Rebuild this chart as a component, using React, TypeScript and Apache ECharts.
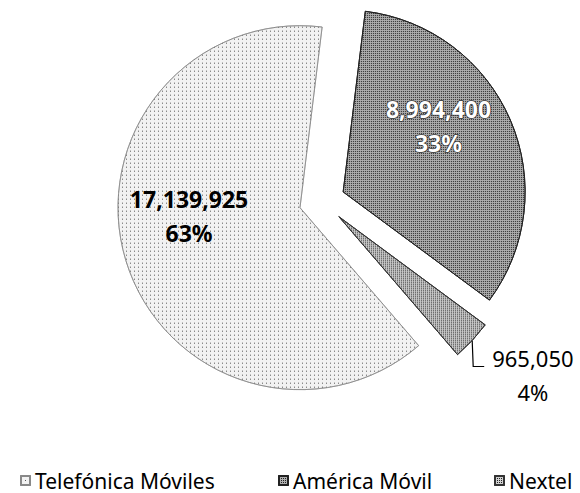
import React, { useEffect, useRef } from 'react';
import * as echarts from 'echarts';

const categories = ['Telefónica Móviles', 'América Móvil', 'Nextel'];
const values = [17139925, 8994400, 965050];

const FONT = '"Noto Sans", sans-serif';

const fills = ['#f2f2f2', '#afafaf', '#d0d0d0'];
const dotColors = ['#555', '#222', '#222'];
const borderColors = ['#888', '#222', '#333'];

const fmtValue = (v: number) => Number(v).toLocaleString('en-US');

export default function App() {
  const ref = useRef<HTMLDivElement>(null);
  useEffect(() => {
    document.body.style.margin = '0';
    const chart = echarts.init(ref.current!, null, { renderer: 'svg' });
    const data = categories.map((name, i) => ({
      name,
      value: values[i],
      selected: true,
      itemStyle: {
        color: fills[i],
        borderColor: borderColors[i],
        borderWidth: i === 0 ? 0.7 : 1,
        decal: {
          symbol: 'rect',
          symbolSize: 1,
          color: dotColors[i],
          dashArrayX: i === 0 ? [1, 3] : [1, 1],
          dashArrayY: i === 0 ? [1, 3] : [1, 1],
        },
      },
      label:
        i === 2
          ? {
              position: 'outside',
              color: '#000',
              fontWeight: 'normal',
              formatter: (p: any) => `{a|${fmtValue(p.value)}}\n{a|${Math.round(p.percent)}%}`,
              rich: {
                a: { width: 84, align: 'center', fontSize: 22, lineHeight: 34, fontFamily: FONT, color: '#000' },
              },
            }
          : i === 1
          ? { position: 'inside', color: '#fff', fontWeight: 'bold', textBorderColor: '#333', textBorderWidth: 1.5 }
          : { position: 'inside', color: '#000', fontWeight: 'bold' },
      labelLine: i === 2 ? { show: true, length: 20, length2: 12, lineStyle: { color: '#000', width: 1.2 } } : { show: false },
    }));
    chart.setOption({
      animation: false,
      legend: categories.map((name, i) => ({
        data: [name],
        left: [15, 273, 489][i],
        top: 465,
        icon: 'rect',
        itemWidth: 9,
        itemHeight: 9,
        selectedMode: false,
        textStyle: { fontSize: 21, fontFamily: FONT, color: '#000' },
      })),
      series: [
        {
          type: 'pie',
          center: [322, 201],
          radius: 182,
          startAngle: -49.3,
          clockwise: true,
          selectedMode: 'multiple',
          selectedOffset: 23,
          avoidLabelOverlap: false,
          emphasis: { disabled: true },
          label: {
            fontFamily: FONT,
            fontSize: 23,
            lineHeight: 34,
            align: 'center',
            formatter: (p: any) => `${fmtValue(p.value)}\n${Math.round(p.percent)}%`,
          },
          labelLayout: (p: any) => {
            if (p.dataIndex === 0) return { dx: -21, dy: -19 };
            if (p.dataIndex === 1) return { dx: 9, dy: -29 };
            if (p.dataIndex === 2 && p.labelLinePoints) {
              const p0 = p.labelLinePoints[0];
              const p1 = [p0[0] + 1, p0[1] + 26];
              const p2 = [p1[0] + 11, p1[1]];
              return { dx: -13, dy: 21, labelLinePoints: [p0, p1, p2] };
            }
            return {};
          },
          data,
        },
      ],
    });
    return () => chart.dispose();
  }, []);
  return <div ref={ref} style={{ width: 580, height: 493 }} />;
}
